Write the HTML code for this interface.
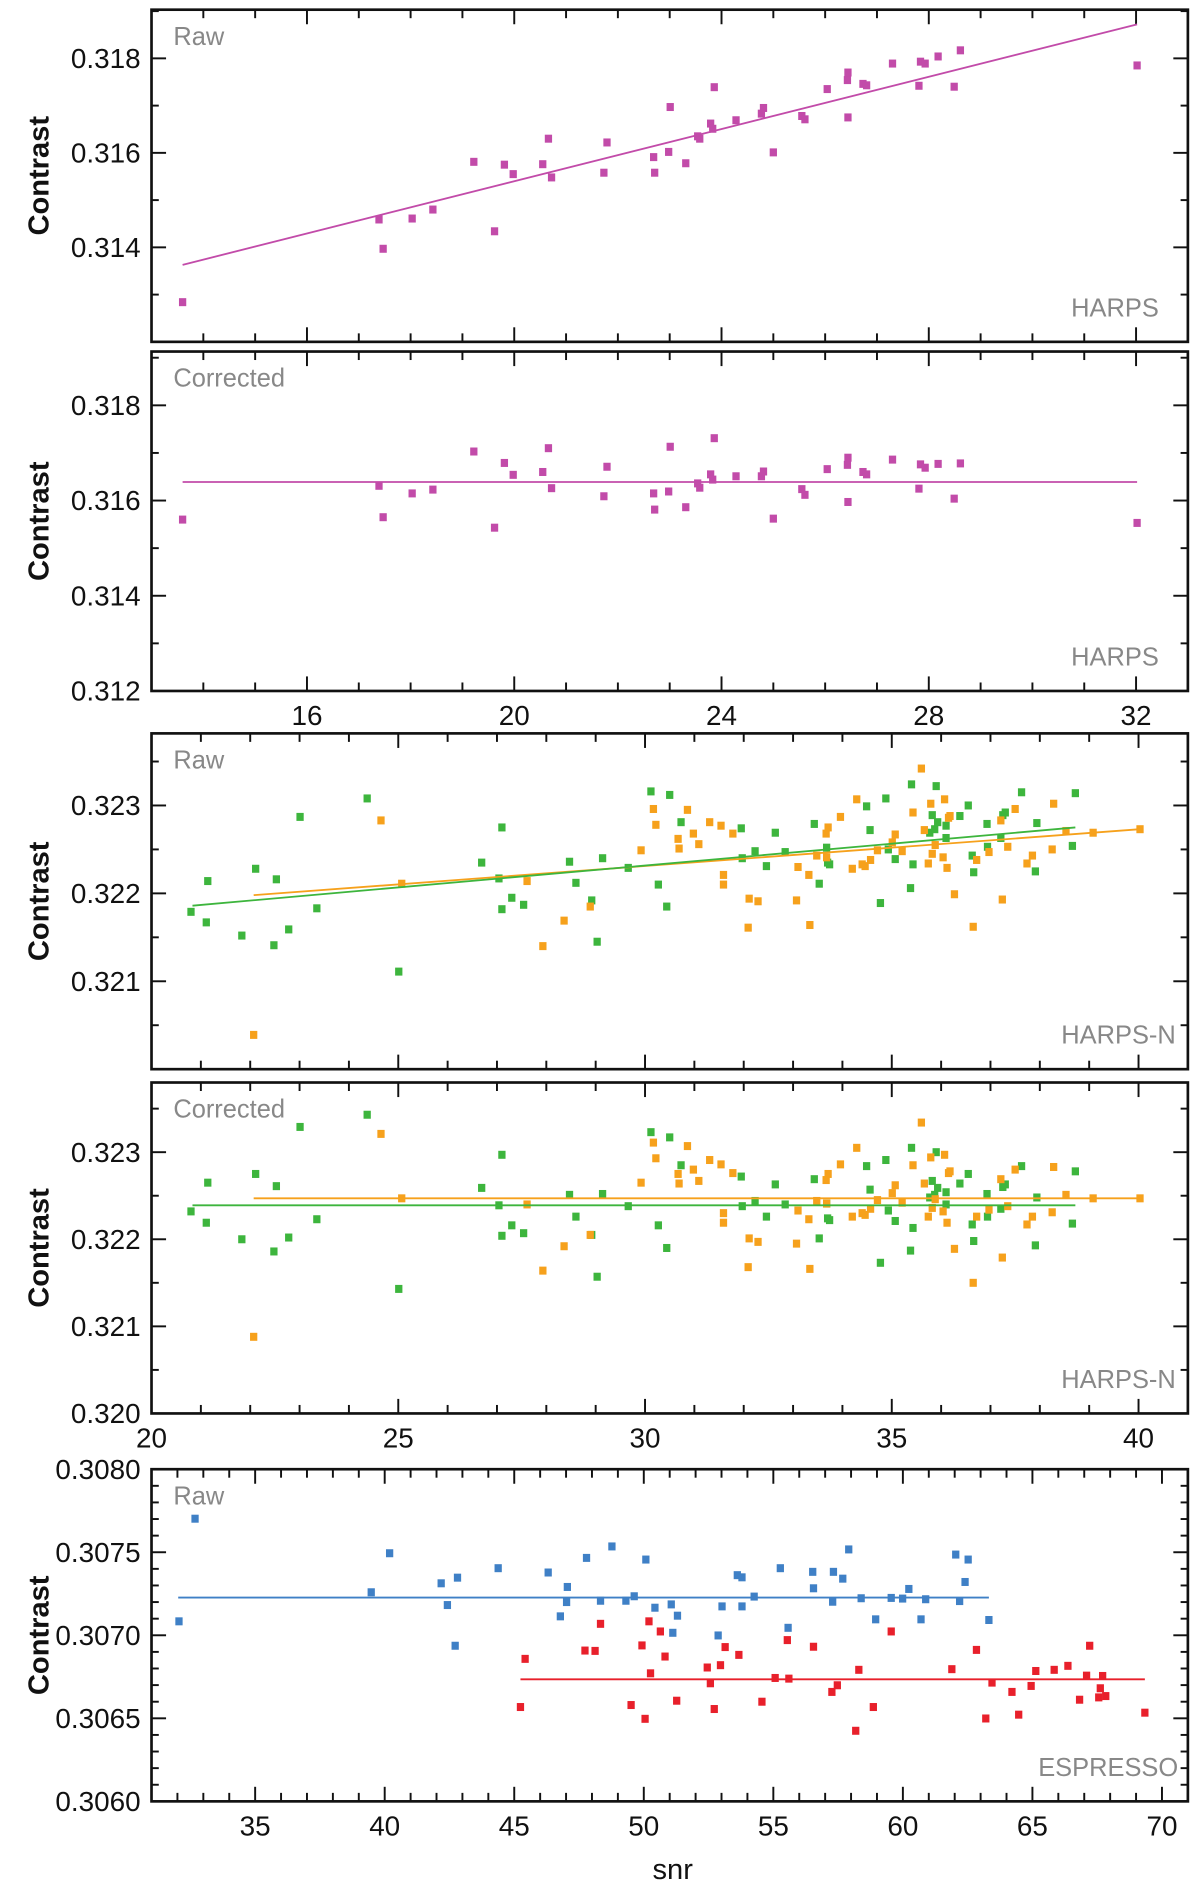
<!DOCTYPE html>
<html><head><meta charset="utf-8"><style>
html,body{margin:0;padding:0;background:#fff;}
svg{display:block;}
text{font-family:"Liberation Sans",Arial,sans-serif;}
</style></head><body>
<svg id="fig" width="1200" height="1885" viewBox="0 0 990 1555" preserveAspectRatio="none" xmlns="http://www.w3.org/2000/svg"></svg>
<script>
// ---------- DATA ----------
const harpsX = [13.6,17.39,17.47,18.03,18.43,19.22,19.62,19.81,19.98,20.55,20.66,20.72,21.73,21.79,22.69,22.71,22.98,23.01,23.31,23.54,23.58,23.79,23.83,23.86,24.28,24.77,24.81,25.0,25.55,25.61,26.04,26.43,26.44,26.44,26.73,26.8,27.3,27.81,27.84,27.93,28.18,28.49,28.61,32.02];
const harpsRaw = [0.31284,0.31459,0.31397,0.31461,0.3148,0.31581,0.31434,0.31575,0.31555,0.31576,0.3163,0.31548,0.31558,0.31622,0.31591,0.31558,0.31602,0.31697,0.31578,0.31635,0.3163,0.31662,0.31651,0.31739,0.31669,0.31683,0.31695,0.31601,0.31678,0.31671,0.31735,0.31754,0.3177,0.31675,0.31746,0.31743,0.31789,0.31742,0.31793,0.31789,0.31804,0.3174,0.31817,0.31785];
const harpsCorr = [0.3156,0.31631,0.31565,0.31615,0.31623,0.31703,0.31543,0.31679,0.31654,0.3166,0.3171,0.31626,0.31609,0.31671,0.31615,0.31581,0.31619,0.31713,0.31586,0.31636,0.31627,0.31655,0.31644,0.31731,0.31651,0.31651,0.31661,0.31562,0.31624,0.31612,0.31666,0.31675,0.3169,0.31597,0.3166,0.31655,0.31686,0.31625,0.31676,0.31669,0.31677,0.31604,0.31678,0.31553];
const harpsRawFitX = [13.6,32.02], harpsRawFitY = [0.31363,0.31872];
const harpsCorrFitX = [13.6,32.02], harpsCorrFitY = [0.31639,0.31639];

const hnGreenX = [20.80,21.11,21.14,21.83,22.11,22.48,22.53,22.78,23.01,23.35,24.37,25.01,26.69,27.10,27.04,27.10,27.30,27.54,28.47,28.60,28.92,29.03,29.14,29.66,30.12,30.27,30.44,30.50,30.73,31.95,31.97,32.23,32.46,32.64,32.84,33.43,33.53,33.68,33.70,33.74,34.49,34.56,34.77,34.88,34.93,35.07,35.40,35.38,35.43,35.77,35.82,35.87,35.90,35.93,36.10,36.10,36.38,36.55,36.63,36.66,36.93,36.94,37.21,37.25,37.30,37.63,37.91,37.94,38.66,38.72];
const hnGreenRaw = [0.32179,0.32167,0.32214,0.32152,0.32228,0.32141,0.32216,0.32159,0.32287,0.32183,0.32308,0.32111,0.32235,0.32275,0.32217,0.32182,0.32195,0.32187,0.32236,0.32212,0.32192,0.32145,0.3224,0.32229,0.32316,0.3221,0.32185,0.32312,0.32281,0.32274,0.3224,0.32248,0.32231,0.32269,0.32247,0.32279,0.32211,0.32252,0.32235,0.32233,0.32299,0.32272,0.32189,0.32308,0.3225,0.32239,0.32324,0.32206,0.32233,0.32269,0.32289,0.32273,0.32322,0.32281,0.32277,0.32263,0.32288,0.323,0.32243,0.32224,0.32279,0.32253,0.32263,0.32289,0.32292,0.32315,0.32225,0.3228,0.32254,0.32314];
const hnGreenCorr = [0.32232,0.32219,0.32265,0.322,0.32275,0.32186,0.32261,0.32202,0.32329,0.32223,0.32343,0.32143,0.32259,0.32297,0.32239,0.32204,0.32216,0.32207,0.32251,0.32226,0.32205,0.32157,0.32252,0.32238,0.32323,0.32216,0.3219,0.32317,0.32285,0.32272,0.32238,0.32244,0.32226,0.32263,0.3224,0.32269,0.32201,0.32241,0.32224,0.32222,0.32284,0.32257,0.32173,0.32291,0.32233,0.32221,0.32305,0.32187,0.32213,0.32248,0.32267,0.32251,0.323,0.32259,0.32254,0.3224,0.32264,0.32275,0.32217,0.32198,0.32252,0.32226,0.32235,0.3226,0.32263,0.32284,0.32193,0.32248,0.32218,0.32278];
const hnOrangeX = [22.07,24.65,25.07,27.61,27.93,28.36,28.89,29.92,30.17,30.22,30.67,30.69,30.86,30.98,31.09,31.31,31.54,31.59,31.59,31.78,32.11,32.09,32.29,33.07,33.10,33.32,33.34,33.48,33.67,33.68,33.71,33.96,34.20,34.29,34.40,34.46,34.57,34.71,35.01,35.07,35.21,35.60,35.43,35.66,35.74,35.79,35.82,35.88,36.04,36.07,36.12,36.15,36.18,36.27,36.65,36.72,36.97,37.21,37.24,37.35,37.50,37.74,37.85,38.25,38.28,38.53,39.08,40.03];
const hnOrangeRaw = [0.32039,0.32283,0.32211,0.32214,0.3214,0.32169,0.32185,0.32249,0.32296,0.32278,0.32262,0.32251,0.32295,0.32268,0.32256,0.32281,0.32277,0.32221,0.3221,0.32268,0.32194,0.32161,0.32191,0.32192,0.3223,0.32221,0.32164,0.32243,0.32268,0.32241,0.32275,0.32287,0.32228,0.32307,0.32233,0.32231,0.32238,0.32249,0.32258,0.32267,0.32248,0.32342,0.32292,0.32272,0.32234,0.32302,0.32245,0.32255,0.32241,0.32307,0.32229,0.32286,0.32288,0.32199,0.32162,0.32238,0.32247,0.32283,0.32193,0.32253,0.32296,0.32234,0.32243,0.3225,0.32302,0.32271,0.32269,0.32273];
const hnOrangeCorr = [0.32088,0.32321,0.32247,0.3224,0.32164,0.32192,0.32205,0.32265,0.32311,0.32293,0.32275,0.32264,0.32307,0.3228,0.32267,0.32291,0.32286,0.3223,0.32219,0.32276,0.32201,0.32168,0.32197,0.32195,0.32233,0.32223,0.32166,0.32244,0.32268,0.32241,0.32275,0.32286,0.32226,0.32305,0.3223,0.32228,0.32235,0.32245,0.32253,0.32262,0.32242,0.32334,0.32285,0.32264,0.32226,0.32294,0.32236,0.32246,0.32232,0.32297,0.32219,0.32276,0.32278,0.32189,0.3215,0.32226,0.32234,0.32269,0.32179,0.32238,0.3228,0.32217,0.32226,0.32231,0.32283,0.32251,0.32247,0.32247];
const hnGreenFitX = [20.83,38.72], hnGreenFitY = [0.32186,0.32275];
const hnOrangeFitX = [22.07,40.03], hnOrangeFitY = [0.32198,0.32273];
const hnGreenCorrFitY = [0.32239,0.32239], hnOrangeCorrFitY = [0.32247,0.32247];

const espBlueX = [32.06,32.68,39.48,40.19,42.18,42.42,42.81,42.72,44.38,46.31,46.78,47.05,47.02,47.79,48.33,48.77,49.31,49.63,50.08,50.43,51.06,51.30,51.12,52.87,53.02,53.61,53.79,53.79,54.26,55.27,55.57,56.52,56.55,57.29,57.32,57.68,57.91,58.39,58.95,59.55,59.99,60.23,60.88,60.70,62.04,62.19,62.40,62.52,63.32];
const espBlueY = [0.307084,0.307702,0.307259,0.307494,0.307313,0.307182,0.307347,0.306937,0.307404,0.307378,0.307114,0.307291,0.3072,0.307466,0.307208,0.307535,0.307208,0.307235,0.307456,0.307166,0.307186,0.307118,0.307015,0.306999,0.307174,0.307362,0.307349,0.307174,0.307233,0.307404,0.307045,0.307382,0.307283,0.307202,0.307382,0.307341,0.307517,0.307223,0.307096,0.307225,0.307221,0.307279,0.307217,0.307096,0.307486,0.307206,0.307321,0.307456,0.307092];
const espRedX = [45.24,45.42,47.73,48.12,48.33,49.51,49.93,50.05,50.20,50.26,50.64,50.82,51.27,52.45,52.57,52.72,52.96,53.14,53.67,54.56,55.07,55.54,55.60,56.55,57.26,57.47,58.18,58.30,58.86,59.55,61.89,62.84,63.20,63.44,64.21,64.47,64.95,65.13,65.84,66.37,66.82,67.09,67.21,67.56,67.62,67.71,67.83,69.34];
const espRedY = [0.306568,0.306858,0.306908,0.306906,0.307069,0.30658,0.306939,0.306497,0.307084,0.306771,0.307023,0.306872,0.306606,0.306806,0.306711,0.306556,0.30682,0.306929,0.306882,0.3066,0.306743,0.306971,0.306739,0.306931,0.306659,0.306699,0.306425,0.306792,0.306568,0.307023,0.306796,0.306912,0.306499,0.306715,0.306659,0.306522,0.306695,0.306785,0.306792,0.306816,0.306612,0.306757,0.306937,0.306626,0.306681,0.306755,0.306634,0.306534];
const espBlueFitX = [32.03,63.32], espBlueFitY = [0.307227,0.307227];
const espRedFitX = [45.24,69.34], espRedFitY = [0.306735,0.306735];

const harpsXTicks = [16,20,24,28,32];
const hnXTicks = [20,25,30,35,40];
const espXTicks = [35,40,45,50,55,60,65,70];
const harpsYTicks = ['0.314','0.316','0.318'];
const harpsCorrYTicks = ['0.312','0.314','0.316','0.318'];
const hnYTicks = ['0.321','0.322','0.323'];
const hnCorrYTicks = ['0.320','0.321','0.322','0.323'];
const espYTicks = ['0.3060','0.3065','0.3070','0.3075','0.3080'];

// ---------- DRAWING ----------
const NS='http://www.w3.org/2000/svg';
const svg=document.getElementById('fig');
function mk(tag,attrs,parent){const e=document.createElementNS(NS,tag);for(const k in attrs)e.setAttribute(k,attrs[k]);(parent||svg).appendChild(e);return e;}
const MAG='#c24ba9',GRN='#3db53d',ORG='#f6a11c',BLU='#3f80c6',RED='#e8202b';

function panel(cfg){
  const g=mk('g',{});
  
  
  const L=125,R=980,T=cfg.top,B=cfg.bottom;
  const sx=v=>L+(v-cfg.xmin)/(cfg.xmax-cfg.xmin)*(R-L);
  const sy=v=>B-(v-cfg.ymin)/(cfg.ymax-cfg.ymin)*(B-T);
  for(let v=Math.ceil(cfg.xmin/cfg.xminor)*cfg.xminor;v<=cfg.xmax+1e-9;v+=cfg.xminor){
    const vv=Math.round(v*1000)/1000;
    const major=Math.abs(vv/cfg.xmajor-Math.round(vv/cfg.xmajor))<1e-6;
    const len=major?12:7,x=sx(vv);
    mk('line',{x1:x,y1:B,x2:x,y2:B-len,stroke:'#111','stroke-width':1.6},g);
    mk('line',{x1:x,y1:T,x2:x,y2:T+len,stroke:'#111','stroke-width':1.6},g);
  }
  for(let i=0;;i++){
    const v=cfg.ymin0+i*cfg.yminor; if(v>cfg.ymax+1e-9)break; if(v<cfg.ymin-1e-9)continue;
    const major=Math.abs(((v-cfg.ymajor0)/cfg.ymajor)-Math.round((v-cfg.ymajor0)/cfg.ymajor))<1e-4;
    const len=major?12:6,y=sy(v);
    mk('line',{x1:L,y1:y,x2:L+len,y2:y,stroke:'#111','stroke-width':1.6},g);
    mk('line',{x1:R,y1:y,x2:R-len,y2:y,stroke:'#111','stroke-width':1.6},g);
  }
  mk('rect',{x:L,y:T,width:R-L,height:B-T,fill:'none',stroke:'#111','stroke-width':2.2},g);
  cfg.yticks.forEach(t=>{
    const tx=mk('text',{x:116,y:sy(parseFloat(t))+8,'text-anchor':'end','font-size':23,fill:'#111'},g);
    tx.textContent=t;
    
    
  });
  if(cfg.xticks){cfg.xticks.forEach(t=>{
    const tx=mk('text',{x:sx(t),y:B+28,'text-anchor':'middle','font-size':23,fill:'#111'},g);
    tx.textContent=String(t);
    
    
  });}
  const yl=mk('text',{x:0,y:0,transform:`translate(40,${(T+B)/2}) rotate(-90)`,'text-anchor':'middle','font-size':24,'font-weight':'bold',fill:'#111'},g);
  yl.textContent='Contrast';
  
  
  const a=mk('text',{x:143,y:T+29,'font-size':21,fill:'#888'},g);a.textContent=cfg.label;
  
  
  const b=mk('text',{x:cfg.instX||956,y:B-21,'text-anchor':'end','font-size':21,fill:'#888'},g);b.textContent=cfg.inst;
  
  
  cfg.series.forEach(s=>{
    if(s.fx){const ln=mk('line',{x1:sx(s.fx[0]),y1:sy(s.fy[0]),x2:sx(s.fx[1]),y2:sy(s.fy[1]),stroke:s.color,'stroke-width':1.5},g);
      
      }
    if(s.x){s.x.forEach((xv,i)=>{
      const r=mk('rect',{x:sx(xv)-3,y:sy(s.y[i])-3.3,width:6,height:6.6,fill:s.color},g);
      
      
    });}
  });
}
panel({name:'harps-raw-panel',top:8,bottom:282,xmin:13,xmax:33,xminor:1,xmajor:4,ymin:0.312,ymax:0.31903,ymin0:0.312,yminor:0.001,ymajor0:0.312,ymajor:0.002,yticks:harpsYTicks,label:'Raw',inst:'HARPS',
  series:[{fx:harpsRawFitX,fy:harpsRawFitY,color:MAG,x:harpsX,y:harpsRaw}]});
panel({name:'harps-corrected-panel',top:290,bottom:570,xmin:13,xmax:33,xminor:1,xmajor:4,ymin:0.312,ymax:0.31913,ymin0:0.312,yminor:0.001,ymajor0:0.312,ymajor:0.002,yticks:harpsCorrYTicks,xticks:harpsXTicks,label:'Corrected',inst:'HARPS',
  series:[{fx:harpsCorrFitX,fy:harpsCorrFitY,color:MAG,x:harpsX,y:harpsCorr}]});
panel({name:'harpsn-raw-panel',top:605,bottom:882,xmin:20,xmax:41,xminor:1,xmajor:5,ymin:0.320,ymax:0.32382,ymin0:0.320,yminor:0.0005,ymajor0:0.320,ymajor:0.001,yticks:hnYTicks,label:'Raw',inst:'HARPS-N',instX:970,
  series:[{x:hnGreenX,y:hnGreenRaw,color:GRN},{x:hnOrangeX,y:hnOrangeRaw,color:ORG},{fx:hnOrangeFitX,fy:hnOrangeFitY,color:ORG},{fx:hnGreenFitX,fy:hnGreenFitY,color:GRN}]});
panel({name:'harpsn-corrected-panel',top:893,bottom:1166,xmin:20,xmax:41,xminor:1,xmajor:5,ymin:0.320,ymax:0.3238,ymin0:0.320,yminor:0.0005,ymajor0:0.320,ymajor:0.001,yticks:hnCorrYTicks,xticks:hnXTicks,label:'Corrected',inst:'HARPS-N',instX:970,
  series:[{x:hnGreenX,y:hnGreenCorr,color:GRN},{x:hnOrangeX,y:hnOrangeCorr,color:ORG},{fx:hnOrangeFitX,fy:hnOrangeCorrFitY,color:ORG},{fx:hnGreenFitX,fy:hnGreenCorrFitY,color:GRN}]});
panel({name:'espresso-panel',top:1212,bottom:1486,xmin:31,xmax:71,xminor:1,xmajor:5,ymin:0.3060,ymax:0.3080,ymin0:0.3060,yminor:0.0001,ymajor0:0.3060,ymajor:0.0005,yticks:espYTicks,xticks:espXTicks,label:'Raw',inst:'ESPRESSO',instX:972,
  series:[{fx:espBlueFitX,fy:espBlueFitY,color:BLU,x:espBlueX,y:espBlueY},{fx:espRedFitX,fy:espRedFitY,color:RED,x:espRedX,y:espRedY}]});
const xt=mk('text',{x:555,y:1550,'text-anchor':'middle','font-size':24,fill:'#111'});
xt.textContent='snr';


</script>
</body></html>
